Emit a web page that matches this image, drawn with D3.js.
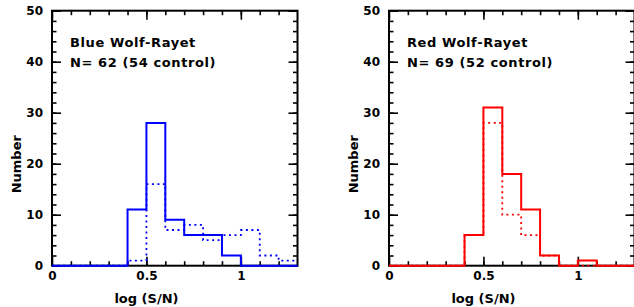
<!DOCTYPE html>
<html>
<head>
<meta charset="utf-8">
<script src="https://d3js.org/d3.v7.min.js"></script>
<style>
  body { margin: 0; background: #fff; }
  text { font-family: "DejaVu Sans", sans-serif; font-weight: bold; fill: #000; }
</style>
</head>
<body>
<div id="chart"></div>
<script>
// bin edges of log(S/N), width 0.1
var binEdges = [0, 0.1, 0.2, 0.3, 0.4, 0.5, 0.6, 0.7, 0.8, 0.9, 1.0, 1.1, 1.2, 1.3];

// counts per bin (13 bins)
var blueSample  = [0, 0, 0, 0, 11, 28, 9, 6, 6, 2, 0, 0, 0];
var blueControl = [0, 0, 0, 0, 1, 16, 7, 8, 5, 6, 7, 2, 1];
var redSample   = [0, 0, 0, 0, 6, 31, 18, 11, 2, 0, 1, 0, 0];
var redControl  = [0, 0, 0, 0, 6, 28, 10, 6, 2, 0, 0, 0, 0];

var xMajor = [0, 0.5, 1];
var yMajor = [0, 10, 20, 30, 40, 50];

var W = 634, H = 307;
var svg = d3.select("#chart").append("svg")
    .attr("width", W)
    .attr("height", H);

var plotW = 245.5, plotH = 255, plotTop = 10.7;

function drawPanel(left, color, solid, dotted, title, count) {
    var g = svg.append("g")
        .attr("transform", "translate(" + left + "," + plotTop + ")");

    var x = d3.scaleLinear().domain([0, 1.3]).range([0, plotW]);
    var y = d3.scaleLinear().domain([0, 50]).range([plotH, 0]);

    var xMinor = d3.range(1, 13).map(function (i) { return i / 10; });
    var yMinor = d3.range(0, 51, 2);

    function styleAxis(sel) {
        sel.select(".domain").remove();
        sel.selectAll(".tick line").attr("stroke", "#000").attr("stroke-width", 1.6);
        sel.selectAll(".tick text")
            .style("font-size", "12px")
            .style("font-family", "DejaVu Sans")
            .style("font-weight", "bold");
    }

    // frame
    g.append("rect")
        .attr("width", plotW)
        .attr("height", plotH)
        .attr("fill", "none")
        .attr("stroke", "#000")
        .attr("stroke-width", 2);

    // minor ticks on all four sides
    g.append("g").attr("transform", "translate(0," + plotH + ")")
        .call(d3.axisBottom(x).tickValues(xMinor).tickFormat("").tickSize(-4.5)).call(styleAxis);
    g.append("g")
        .call(d3.axisTop(x).tickValues(xMinor).tickFormat("").tickSize(-4.5)).call(styleAxis);
    g.append("g")
        .call(d3.axisLeft(y).tickValues(yMinor).tickFormat("").tickSize(-4.5)).call(styleAxis);
    g.append("g").attr("transform", "translate(" + plotW + ",0)")
        .call(d3.axisRight(y).tickValues(yMinor).tickFormat("").tickSize(-4.5)).call(styleAxis);

    // major ticks
    g.append("g").attr("transform", "translate(0," + plotH + ")")
        .call(d3.axisBottom(x).tickValues(xMajor).tickFormat(d3.format("")).tickSize(-9).tickPadding(6))
        .call(styleAxis);
    g.append("g")
        .call(d3.axisTop(x).tickValues(xMajor).tickFormat("").tickSize(-9)).call(styleAxis);
    g.append("g")
        .call(d3.axisLeft(y).tickValues(yMajor).tickFormat(d3.format("")).tickSize(-9).tickPadding(9))
        .call(styleAxis);
    g.append("g").attr("transform", "translate(" + plotW + ",0)")
        .call(d3.axisRight(y).tickValues(yMajor).tickFormat("").tickSize(-9)).call(styleAxis);

    // histograms (drawn over the frame, as in the original)
    function stepPoints(vals) {
        var pts = vals.map(function (v, i) { return [binEdges[i], v]; });
        pts.push([binEdges[binEdges.length - 1], vals[vals.length - 1]]);
        return pts;
    }
    var line = d3.line()
        .x(function (d) { return x(d[0]); })
        .y(function (d) { return y(d[1]); })
        .curve(d3.curveStepAfter);

    g.append("path")
        .datum(stepPoints(dotted))
        .attr("d", line)
        .attr("fill", "none")
        .attr("stroke", color)
        .attr("stroke-width", 1.8)
        .attr("stroke-dasharray", "2,3.5");

    g.append("path")
        .datum(stepPoints(solid))
        .attr("d", line)
        .attr("fill", "none")
        .attr("stroke", color)
        .attr("stroke-width", 2);

    // labels
    g.append("text")
        .attr("x", 18).attr("y", 36)
        .style("font-size", "13px")
        .style("letter-spacing", "0.6px")
        .text(title);
    g.append("text")
        .attr("x", 18).attr("y", 56.5)
        .style("font-size", "13px")
        .style("letter-spacing", "0.6px")
        .text("N= " + count[0] + " (" + count[1] + " control)");

    g.append("text")
        .attr("x", x(0.5)).attr("y", plotH + 37)
        .attr("text-anchor", "middle")
        .style("font-size", "13px")
        .text("log (S/N)");

    g.append("text")
        .attr("transform", "translate(" + (-31) + "," + (plotH / 2 + 26) + ") rotate(-90)")
        .attr("text-anchor", "middle")
        .style("font-size", "13px")
        .text("Number");
}

drawPanel(52, "#0000ff", blueSample, blueControl, "Blue Wolf-Rayet", [62, 54]);
drawPanel(389, "#ff0000", redSample, redControl, "Red Wolf-Rayet", [69, 52]);
</script>
</body>
</html>
